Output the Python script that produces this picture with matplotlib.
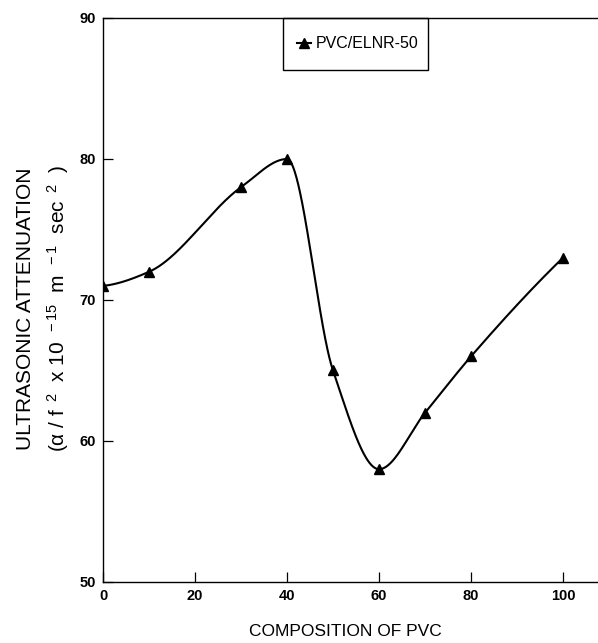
import numpy as np
import matplotlib
matplotlib.use("Agg")
import matplotlib.pyplot as plt
from matplotlib.patches import Rectangle

# ---- data ----
composition = [0, 10, 30, 40, 50, 60, 70, 80, 100]
attenuation = [71, 72, 78, 80, 65, 58, 62, 66, 73]
series_label = "PVC/ELNR-50"
x_ticks = [0, 20, 40, 60, 80, 100]
y_ticks = [50, 60, 70, 80, 90]
x_label = "COMPOSITION OF PVC"
y_label_1 = "ULTRASONIC ATTENUATION"
y_label_2 = r"($\alpha$ / f $^{\,2}$  x 10 $^{\,-15}$  m $^{\,-1}$  sec $^{\,2}$  )"


def pchip(x, y, xs):
    """Monotone piecewise-cubic (Fritsch-Carlson) smooth curve through the points."""
    x = np.asarray(x, float)
    y = np.asarray(y, float)
    h = np.diff(x)
    delta = np.diff(y) / h
    n = len(x)
    d = np.zeros(n)
    for k in range(1, n - 1):
        if delta[k - 1] * delta[k] > 0:
            w1 = 2 * h[k] + h[k - 1]
            w2 = h[k] + 2 * h[k - 1]
            d[k] = (w1 + w2) / (w1 / delta[k - 1] + w2 / delta[k])
        else:
            d[k] = 0.0

    def end(h0, h1, d0, d1):
        dd = ((2 * h0 + h1) * d0 - h0 * d1) / (h0 + h1)
        if np.sign(dd) != np.sign(d0):
            dd = 0.0
        elif np.sign(d0) != np.sign(d1) and abs(dd) > abs(3 * d0):
            dd = 3 * d0
        return dd

    d[0] = end(h[0], h[1], delta[0], delta[1])
    d[-1] = end(h[-1], h[-2], delta[-1], delta[-2])
    idx = np.clip(np.searchsorted(x, xs) - 1, 0, n - 2)
    hh = h[idx]
    t = (xs - x[idx]) / hh
    h00 = 2 * t ** 3 - 3 * t ** 2 + 1
    h10 = t ** 3 - 2 * t ** 2 + t
    h01 = -2 * t ** 3 + 3 * t ** 2
    h11 = t ** 3 - t ** 2
    return h00 * y[idx] + h10 * hh * d[idx] + h01 * y[idx + 1] + h11 * hh * d[idx + 1]


plt.rcParams["font.family"] = ["Liberation Sans", "DejaVu Sans"]
plt.rcParams["mathtext.fontset"] = "custom"
plt.rcParams["mathtext.rm"] = "Liberation Sans"
plt.rcParams["mathtext.it"] = "Liberation Sans"
plt.rcParams["mathtext.bf"] = "Liberation Sans:bold"

fig = plt.figure(figsize=(5.98, 6.43), dpi=100)
ax = fig.add_axes([103 / 598, 61 / 643, 1 - 103 / 598, (582 - 18) / 643])

xs = np.linspace(composition[0], composition[-1], 800)
ax.plot(xs, pchip(composition, attenuation, xs), color="black", lw=1.5)
ax.plot(composition, attenuation, linestyle="none", marker="^", color="black",
        markersize=7.5)

ax.set_xlim(0, 107.6)
ax.set_ylim(50, 90)
ax.set_xticks(x_ticks)
ax.set_yticks(y_ticks)
ax.tick_params(direction="in", length=7, width=0.9, labelsize=10.5, pad=5)
for lab in ax.get_xticklabels() + ax.get_yticklabels():
    lab.set_fontweight("bold")
ax.spines["right"].set_visible(False)
for s in ["left", "bottom", "top"]:
    ax.spines[s].set_linewidth(1.0)

# legend box
bx0 = (283 - 103) / 495
bw = (428 - 283) / 495
bh = 52 / 564
ax.add_patch(Rectangle((bx0, 1 - bh), bw, bh, transform=ax.transAxes,
                       fill=False, edgecolor="black", lw=1.0, clip_on=False))
ax.plot([], [], color="black", marker="^", markersize=7.5, lw=1.5, label=series_label)
ax.legend(loc="center", bbox_to_anchor=(bx0 + bw / 2 + 0.005, 1 - bh / 2),
          frameon=False, fontsize=11.5, handlelength=0.9, handletextpad=0.3,
          borderpad=0, markerscale=1.0)

fig.text(345 / 598, 12 / 643, x_label, ha="center", va="center", fontsize=12.5)
fig.text(26 / 598, 0.52, y_label_1, rotation=90, ha="center", va="center",
         fontsize=15)
fig.text(58 / 598, 0.52, y_label_2, rotation=90, ha="center", va="center",
         fontsize=15)

fig.savefig("out.png", dpi=100)
